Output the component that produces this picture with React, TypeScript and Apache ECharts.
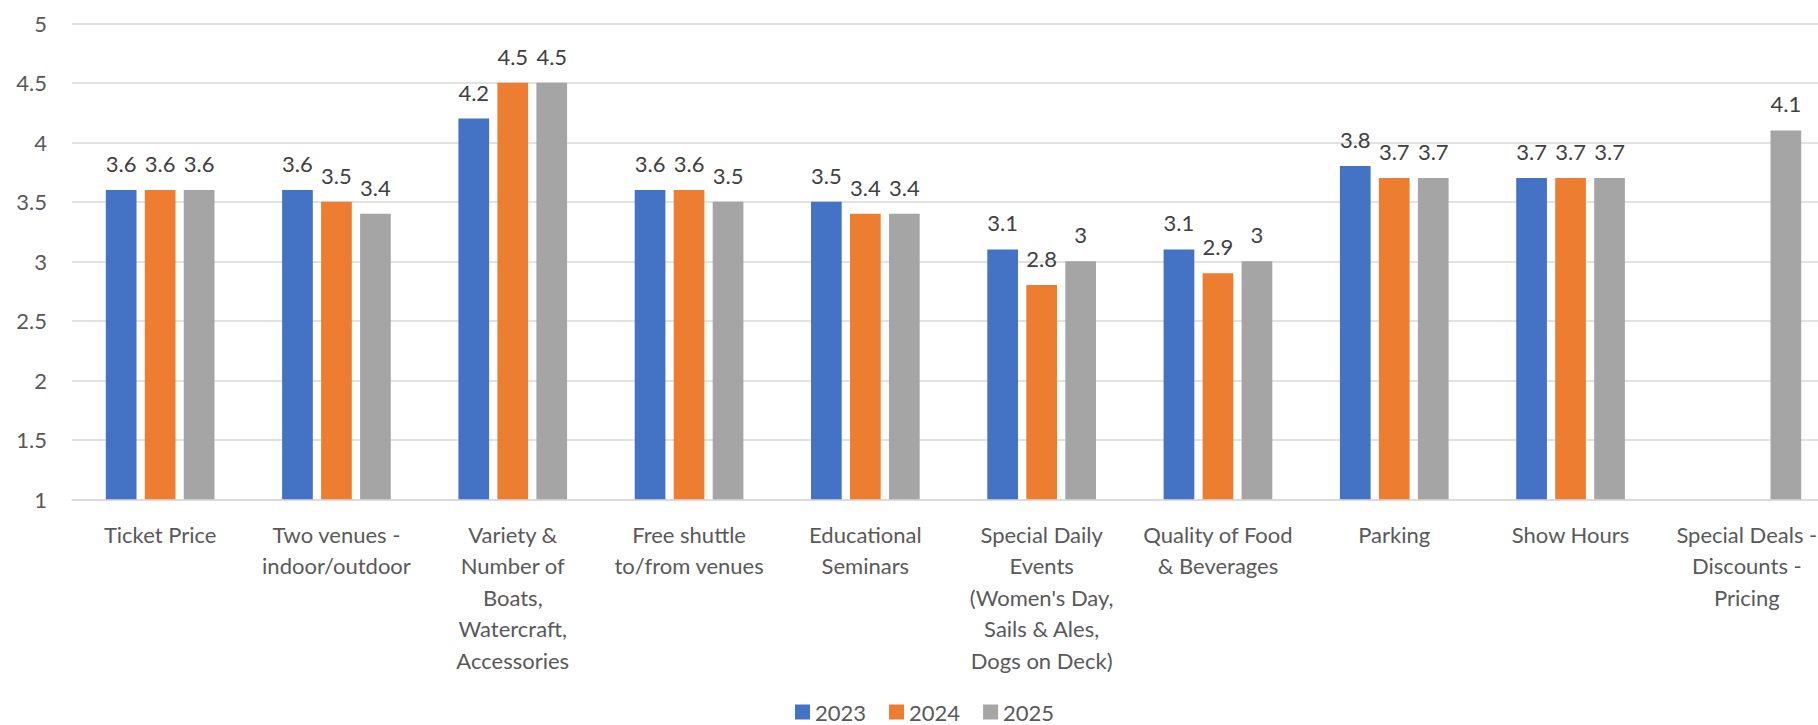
import React, { useEffect, useRef } from "react";
import * as echarts from "echarts";

// Survey criteria (line breaks as they wrap under each group)
const categories: string[] = [
  "Ticket Price",
  "Two venues -\nindoor/outdoor",
  "Variety &\nNumber of\nBoats,\nWatercraft,\nAccessories",
  "Free shuttle\nto/from venues",
  "Educational\nSeminars",
  "Special Daily\nEvents\n(Women's Day,\nSails & Ales,\nDogs on Deck)",
  "Quality of Food\n& Beverages",
  "Parking",
  "Show Hours",
  "Special Deals -\nDiscounts -\nPricing",
];

const years: string[] = ["2023", "2024", "2025"];

const values2023: (number | null)[] = [3.6, 3.6, 4.2, 3.6, 3.5, 3.1, 3.1, 3.8, 3.7, null];
const values2024: (number | null)[] = [3.6, 3.5, 4.5, 3.6, 3.4, 2.8, 2.9, 3.7, 3.7, null];
const values2025: (number | null)[] = [3.6, 3.4, 4.5, 3.5, 3.4, 3.0, 3.0, 3.7, 3.7, 4.1];

const yTicks = { min: 1, max: 5, interval: 0.5 };

const colors = ["#4472C4", "#ED7D31", "#A5A5A5"];
const FONT = "Lato, 'Noto Sans', sans-serif";

export default function App() {
  const ref = useRef<HTMLDivElement>(null);

  useEffect(() => {
    if (!ref.current) return;
    const chart = echarts.init(ref.current, null, { renderer: "svg" });
    const seriesValues = [values2023, values2024, values2025];

    chart.setOption({
      animation: false,
      backgroundColor: "#ffffff",
      textStyle: { fontFamily: FONT },
      color: colors,
      legend: {
        data: years,
        left: 795,
        top: 701,
        padding: 0,
        itemWidth: 15,
        itemHeight: 15,
        itemGap: 23,
        icon: "rect",
        textStyle: { fontFamily: FONT, fontSize: 22, color: "#595959", lineHeight: 18 },
      },
      grid: {
        left: 72,
        top: 23.3,
        width: 1763,
        height: 476,
        containLabel: false,
        outerBoundsMode: "none",
      },
      xAxis: {
        type: "category",
        data: categories,
        axisTick: { show: false },
        axisLine: { show: true, lineStyle: { color: "#D9D9D9", width: 1.5 } },
        axisLabel: {
          interval: 0,
          margin: 19,
          color: "#595959",
          fontFamily: FONT,
          fontSize: 22,
          lineHeight: 31.5,
          align: "center",
        },
      },
      yAxis: {
        type: "value",
        min: yTicks.min,
        max: yTicks.max,
        interval: yTicks.interval,
        axisLine: { show: false },
        axisTick: { show: false },
        splitLine: { lineStyle: { color: "#D9D9D9", width: 1.5 } },
        axisLabel: {
          margin: 25,
          color: "#595959",
          fontFamily: FONT,
          fontSize: 22,
        },
      },
      series: years.map((y, i) => ({
        name: y,
        type: "bar",
        data: seriesValues[i],
        barWidth: 30.7,
        barGap: "27%",
        itemStyle: { color: colors[i] },
        label: {
          show: true,
          position: "top",
          distance: 14.5,
          color: "#404040",
          fontFamily: FONT,
          fontSize: 22,
          lineHeight: 24,
        },
      })),
    });

    return () => chart.dispose();
  }, []);

  return (
    <div
      style={{
        position: "fixed",
        left: 0,
        top: 0,
        width: 1818,
        height: 725,
        overflow: "hidden",
        background: "#fff",
      }}
    >
      <div ref={ref} style={{ width: 1850, height: 725 }} />
    </div>
  );
}
